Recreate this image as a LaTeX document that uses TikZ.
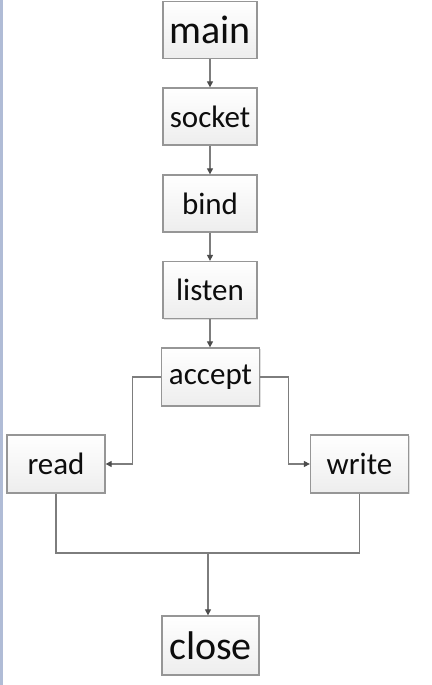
\documentclass[tikz,border=0pt]{standalone}
\usepackage{fontspec}
\setmainfont{Carlito}
\usetikzlibrary{arrows.meta,shadows}
\definecolor{boxline}{RGB}{150,150,150}
\definecolor{conncol}{RGB}{125,125,125}
\definecolor{edgeblue}{RGB}{176,188,214}
\tikzset{
  box/.style={draw=boxline, line width=1.3pt, top color=white, bottom color=black!7,
    inner sep=0pt, minimum width=94pt, minimum height=57pt, text=black!95,
    font=\fontsize{31}{31}\selectfont,
    drop shadow={shadow xshift=1pt, shadow yshift=-1pt, opacity=0.25}},
  bigbox/.style={box, font=\fontsize{40}{40}\selectfont},
  widebox/.style={box, minimum width=98pt, minimum height=58pt},
  conn/.style={draw=conncol, line width=1.2pt},
  arr/.style={conn, -{Triangle[length=6pt,width=6pt,color=black!70]}},
}
\begin{document}
\begin{tikzpicture}[x=1pt,y=-1pt]
\useasboundingbox (0,0) rectangle (431,685);
\fill[white] (0,0) rectangle (431,685);
\fill[edgeblue] (0,0) rectangle (3,685);
\node[bigbox] (main) at (210,30) {main};
\node[box] (socket) at (210,116.5) {socket};
\node[box] (bind) at (210,203.5) {bind};
\node[box] (listen) at (210,290) {listen};
\node[widebox] (accept) at (210.5,377) {accept};
\node[widebox] (read) at (56,464) {read};
\node[widebox] (write) at (359.5,464) {write};
\node[bigbox, minimum height=59pt, minimum width=97pt] (close) at (210.5,645.5) {close};
\coordinate (j) at (208,553);
\draw[arr] (main) -- (socket);
\draw[arr] (socket) -- (bind);
\draw[arr] (bind) -- (listen);
\draw[arr] (listen) -- (listen |- accept.north);
\draw[arr] (accept.west) -- ++(-28,0) |- (read.east);
\draw[arr] (accept.east) -- ++(28,0) |- (write.west);
\draw[conn] (read.south) |- (j) -| (write.south);
\draw[arr] (j) -- (j |- close.north);
\end{tikzpicture}
\end{document}
